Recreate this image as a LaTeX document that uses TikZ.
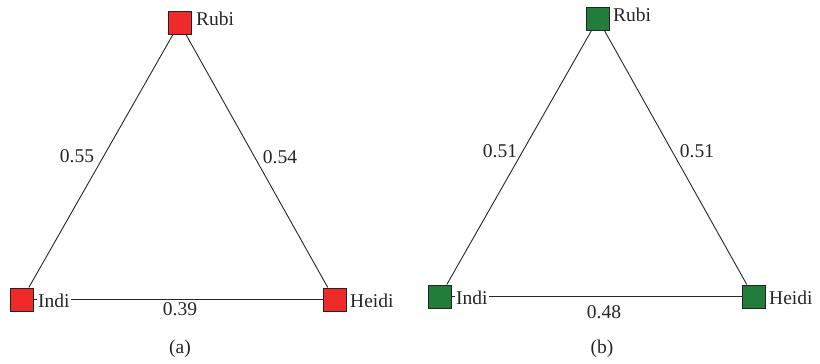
\documentclass[tikz,border=0pt]{standalone}
\usepackage{fontspec}
\setmainfont{Liberation Serif}
\definecolor{redsq}{RGB}{238,42,42}
\definecolor{greensq}{RGB}{34,124,58}
\definecolor{edgegray}{RGB}{35,35,35}
\begin{document}
\begin{tikzpicture}[x=1pt,y=-1pt,
  sq/.style={draw=edgegray,line width=1pt,minimum size=23pt,inner sep=0pt},
  redbox/.style={sq,fill=redsq},
  greenbox/.style={sq,fill=greensq},
  lbl/.style={font=\fontsize{19.5}{22}\selectfont,text=black!85,inner sep=0pt},
  wlbl/.style={lbl,fill=white,inner xsep=1.5pt},
  link/.style={draw=black!85,line width=0.9pt}]
\useasboundingbox (0,0) rectangle (820,364);
% panel (a)
\node[redbox] (ra) at (179.5,23) {};
\node[redbox] (ia) at (22,299.5) {};
\node[redbox] (ha) at (334.5,299.5) {};
\draw[link] (ra) -- (ia);
\draw[link] (ra) -- (ha);
\draw[link] (ia) -- (ha);
\node[lbl,anchor=base west] (tra) at (196,25) {Rubi};
\node[wlbl,anchor=base west] (tia) at (36.5,307) {Indi};
\node[lbl,anchor=base west] (tha) at (350,307) {Heidi};
\node[lbl] (e1a) at (77,156) {0.55};
\node[lbl] (e2a) at (280,157) {0.54};
\node[lbl] (e3a) at (180,309) {0.39};
\node[lbl] (capa) at (180,349) {(a)};
% panel (b)
\node[greenbox] (rb) at (598,19) {};
\node[greenbox] (ib) at (440,296.5) {};
\node[greenbox] (hb) at (753.5,296.5) {};
\draw[link] (rb) -- (ib);
\draw[link] (rb) -- (hb);
\draw[link] (ib) -- (hb);
\node[lbl,anchor=base west] (trb) at (613,21) {Rubi};
\node[wlbl,anchor=base west] (tib) at (454.5,304) {Indi};
\node[lbl,anchor=base west] (thb) at (769,304) {Heidi};
\node[lbl] (e1b) at (500,151) {0.51};
\node[lbl] (e2b) at (697,151) {0.51};
\node[lbl] (e3b) at (604,312) {0.48};
\node[lbl] (capb) at (602,349) {(b)};
\end{tikzpicture}
\end{document}
